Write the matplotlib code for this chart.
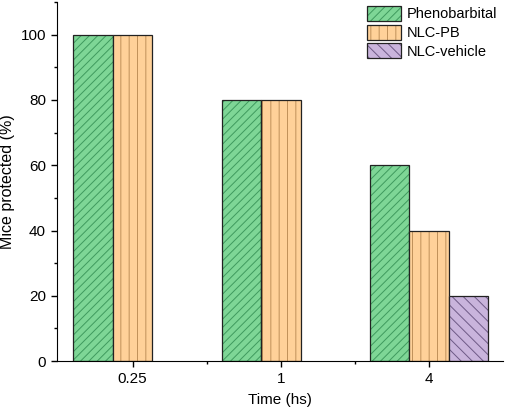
import numpy as np
import matplotlib
matplotlib.use("Agg")
import matplotlib.pyplot as plt
from matplotlib.ticker import MultipleLocator, FixedLocator

# data
times = ["0.25", "1", "4"]
phenobarbital = [100, 80, 60]
nlc_pb = [100, 80, 40]
nlc_vehicle = [np.nan, np.nan, 20]

series = [
    ("Phenobarbital", phenobarbital, "#7ed696", "#3f9a5e", "////"),
    ("NLC-PB", nlc_pb, "#ffd199", "#c0905a", "||"),
    ("NLC-vehicle", nlc_vehicle, "#c9b4dc", "#6e5a86", "\\\\\\"),
]

plt.rcParams['font.family'] = ['Liberation Sans', 'DejaVu Sans']
plt.rcParams['font.size'] = 11
plt.rcParams['hatch.linewidth'] = 0.7

fig = plt.figure(figsize=(5.05, 4.15), dpi=100)
ax = fig.add_axes([0.113, 0.130, 0.883, 0.865])

x = np.arange(len(times))
width = 0.8 / 3
handles = []
for i, (label, vals, fill, hatch_col, hatch) in enumerate(series):
    pos = x + (i - 1) * width
    b1 = ax.bar(pos, vals, width=width, color=fill, edgecolor=hatch_col,
                hatch=hatch, linewidth=0)
    b2 = ax.bar(pos, vals, width=width, fill=False, edgecolor="#222222",
                linewidth=0.9)
    handles.append((b1.patches[0], b2.patches[0]))

ax.set_xlim(-0.51, 2.5)
ax.set_ylim(0, 110)
ax.set_xticks(x)
ax.set_xticklabels(times)
ax.xaxis.set_minor_locator(FixedLocator([0.5, 1.5]))
ax.yaxis.set_major_locator(MultipleLocator(20))
ax.yaxis.set_minor_locator(MultipleLocator(10))
ax.tick_params(which="major", direction="out", length=4.5, width=1)
ax.tick_params(which="minor", direction="out", length=2.5, width=1)
ax.spines["top"].set_visible(False)
ax.spines["right"].set_visible(False)
ax.set_xlabel("Time (hs)", labelpad=5)
ax.set_ylabel("Mice protected (%)", fontsize=11.5)
ax.yaxis.set_label_coords(-0.094, 0.5)

ax.legend(handles, [s[0] for s in series], loc="upper left",
          bbox_to_anchor=(367 / 505, 1 - 6 / 415), bbox_transform=fig.transFigure,
          frameon=False, fontsize=10.5, handlelength=2.3,
          handleheight=1.2, labelspacing=0.22, handletextpad=0.4,
          borderaxespad=0, borderpad=0)

fig.savefig("out.png", dpi=100)
